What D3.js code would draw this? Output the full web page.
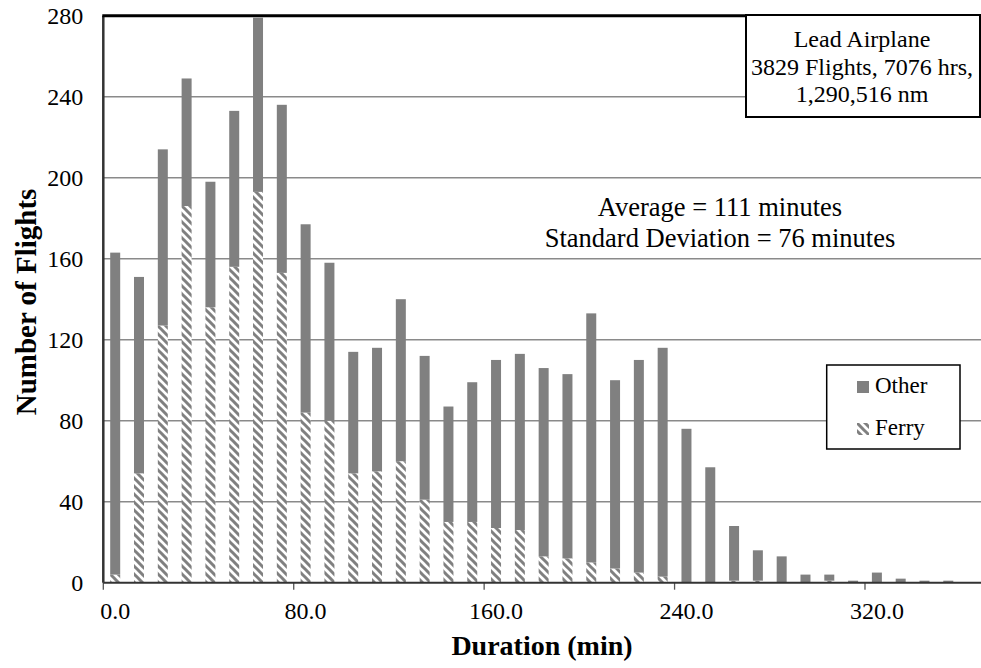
<!DOCTYPE html>
<html>
<head>
<meta charset="utf-8">
<script src="https://cdn.jsdelivr.net/npm/d3@7"></script>
<style>
  html, body { margin: 0; padding: 0; background: #fff; }
  svg { display: block; }
  svg text { font-family: "Liberation Serif", "Times New Roman", Times, serif; }
</style>
</head>
<body>
<svg id="chart" width="981" height="668"></svg>
<script>
// ---- data ----
const durations = [0,10,20,30,40,50,60,70,80,90,100,110,120,130,140,150,160,170,180,190,200,210,220,230,240,250,260,270,280,290,300,310,320,330,340,350,360];
const ferry = [4,54,127,186,136,156,193,153,84,80,54,55,60,41,30,30,27,26,13,12,10,7,5,3,0,0,1,1,0,0,1,0,0,0,0,0,0];
const other = [159,97,87,63,62,77,86,83,93,78,60,61,80,71,57,69,83,87,93,91,123,93,105,113,76,57,27,15,13,4,3,1,5,2,1,1,0];
const yTicks = [0,40,80,120,160,200,240,280];
const xLabelDurations = [0,80,160,240,320];
const seriesNames = ["Ferry","Other"];
const infoLines = ["Lead Airplane","3829 Flights, 7076 hrs,","1,290,516 nm"];
const statLines = ["Average = 111 minutes","Standard Deviation = 76 minutes"];

// ---- layout ----
const FONT = "'Liberation Serif', 'Times New Roman', Times, serif";
const svg = d3.select("#chart");
const L = 103.3, R = 984, T = 15.7, B = 582.7;
const grey = "#808080";

const table = durations.map((d,i) => ({dur: d, Ferry: ferry[i], Other: other[i]}));

const x = d3.scaleBand().domain(durations).range([L, R]).paddingInner(0.58).paddingOuter(0.29);
const xb = d3.scaleBand().domain(durations).range([L, R]).padding(0);
const y = d3.scaleLinear().domain([0, 280]).range([B, T]);

// hatch pattern
const defs = svg.append("defs");
const pat = defs.append("pattern").attr("id","hatch").attr("patternUnits","userSpaceOnUse")
  .attr("width",8).attr("height",8);
pat.append("rect").attr("width",8).attr("height",8).attr("fill","#fff");
pat.append("path").attr("d","M-2,-2 L10,10 M-2,6 L2,10 M6,-2 L10,2")
  .attr("stroke",grey).attr("stroke-width",3);

// gridlines
svg.append("g").selectAll("line").data(yTicks.filter(t => t > 0 && t < 280)).join("line")
  .attr("x1", L).attr("x2", 981).attr("y1", d => y(d)).attr("y2", d => y(d))
  .attr("stroke", "#8a8a8a").attr("stroke-width", 1.6);

// bars
const stack = d3.stack().keys(seriesNames)(table);
const fills = {Ferry: "url(#hatch)", Other: grey};
svg.append("g").selectAll("g").data(stack).join("g")
  .attr("fill", d => fills[d.key])
  .selectAll("rect").data(d => d).join("rect")
  .attr("x", d => x(d.data.dur))
  .attr("width", x.bandwidth())
  .attr("y", d => y(d[1]))
  .attr("height", d => Math.max(0, y(d[0]) - y(d[1])));

// y axis labels
const yAxis = d3.axisLeft(y).tickValues(yTicks).tickSize(0).tickPadding(0).tickFormat(d3.format("d"));
const gy = svg.append("g").attr("transform", `translate(${L - 20},0)`).call(yAxis);
gy.attr("font-family", FONT).attr("font-size", 24);
gy.select(".domain").remove();
gy.selectAll("text").attr("fill", "#000").style("font-family", FONT).style("font-size", "24px");

// x axis labels
const xAxis = d3.axisBottom(x).tickValues(xLabelDurations).tickSize(0).tickPadding(0)
  .tickFormat(d3.format(".1f"));
const gx = svg.append("g").attr("transform", `translate(0,${B + 19})`).call(xAxis);
gx.attr("font-family", FONT).attr("font-size", 24);
gx.select(".domain").remove();
gx.selectAll("text").attr("fill", "#000").style("font-family", FONT).style("font-size", "24px");

// x tick marks at category boundaries
svg.append("g").selectAll("line").data(xLabelDurations).join("line")
  .attr("x1", d => xb(d)).attr("x2", d => xb(d))
  .attr("y1", B).attr("y2", B + 7)
  .attr("stroke", "#555").attr("stroke-width", 1.3);

// axes lines
svg.append("line").attr("x1", L).attr("x2", 981).attr("y1", B).attr("y2", B)
  .attr("stroke", "#333").attr("stroke-width", 2);
svg.append("line").attr("x1", L).attr("x2", L).attr("y1", T).attr("y2", B)
  .attr("stroke", "#333").attr("stroke-width", 2.5);
svg.append("line").attr("x1", L - 1).attr("x2", 981).attr("y1", T).attr("y2", T)
  .attr("stroke", "#000").attr("stroke-width", 3);

// axis titles
svg.append("text").attr("x", 542).attr("y", 655).attr("text-anchor", "middle")
  .style("font-family", FONT).style("font-size", "28px").attr("font-weight", "bold").text("Duration (min)");
svg.append("text").attr("transform", "translate(36,302) rotate(-90)").attr("text-anchor", "middle")
  .style("font-family", FONT).style("font-size", "29px").attr("font-weight", "bold").text("Number of Flights");

// stats text
svg.append("g").selectAll("text").data(statLines).join("text")
  .attr("x", 720).attr("y", (d,i) => 216 + i * 31).attr("text-anchor", "middle")
  .style("font-family", FONT).style("font-size", "26.5px").text(d => d);

// info box
svg.append("rect").attr("x", 746).attr("y", 15).attr("width", 234).attr("height", 102)
  .attr("fill", "#fff").attr("stroke", "#000").attr("stroke-width", 2);
svg.append("g").selectAll("text").data(infoLines).join("text")
  .attr("x", 862).attr("y", (d,i) => 47 + i * 27.5).attr("text-anchor", "middle")
  .style("font-family", FONT).style("font-size", "24px").text(d => d);

// legend
svg.append("rect").attr("x", 826.7).attr("y", 365).attr("width", 133.3).attr("height", 84)
  .attr("fill", "#fff").attr("stroke", "#000").attr("stroke-width", 1.5);
const legendFill = {Other: grey, Ferry: "url(#hatch)"};
const legendOrder = ["Other","Ferry"];
const lg = svg.append("g").selectAll("g").data(legendOrder).join("g")
  .attr("transform", (d,i) => `translate(857,${381 + i * 42})`);
lg.append("rect").attr("width", 12).attr("height", 12).attr("fill", d => legendFill[d]);
lg.append("text").attr("x", 18).attr("y", 12).style("font-family", FONT).style("font-size", "23px").text(d => d);
</script>
</body>
</html>
